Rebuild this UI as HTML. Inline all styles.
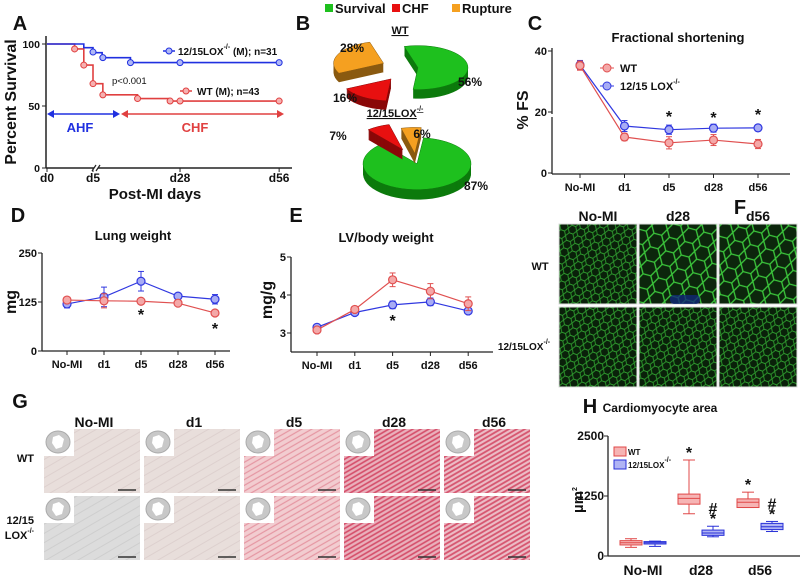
<!DOCTYPE html>
<html><head><meta charset="utf-8"><style>
html,body{margin:0;padding:0;background:#fff}
svg{display:block;font-family:"Liberation Sans",Arial,sans-serif}
</style></head><body>
<svg id="fig" width="801" height="580" viewBox="0 0 801 580">
<defs>
<pattern id="cells" width="9" height="8" patternUnits="userSpaceOnUse" patternTransform="rotate(20)">
<rect width="9" height="8" fill="#0a200a"/>
<path d="M0 4 L2.5 0 L6.5 0 L9 4 L6.5 8 L2.5 8 Z" fill="none" stroke="#2e9a2e" stroke-width="0.9"/>
</pattern>
<pattern id="cellsBig" width="16" height="14" patternUnits="userSpaceOnUse" patternTransform="rotate(15)">
<rect width="16" height="14" fill="#0c260c"/>
<path d="M0 7 L4 0 L12 0 L16 7 L12 14 L4 14 Z" fill="none" stroke="#3cc83c" stroke-width="1.3"/>
</pattern>
<pattern id="pale" width="8" height="8" patternUnits="userSpaceOnUse" patternTransform="rotate(-30)">
<rect width="8" height="8" fill="#e8dedb"/><line x1="0" y1="4" x2="8" y2="4" stroke="#ddd0ce" stroke-width="1"/>
</pattern>
<pattern id="grey" width="8" height="8" patternUnits="userSpaceOnUse" patternTransform="rotate(-30)">
<rect width="8" height="8" fill="#dcdcdc"/><line x1="0" y1="4" x2="8" y2="4" stroke="#cecece" stroke-width="1"/>
</pattern>
<pattern id="pink1" width="5" height="5" patternUnits="userSpaceOnUse" patternTransform="rotate(-30)">
<rect width="5" height="5" fill="#f2ccd0"/><line x1="0" y1="2.5" x2="5" y2="2.5" stroke="#e596a2" stroke-width="1.2"/>
</pattern>
<pattern id="pink2" width="4" height="4" patternUnits="userSpaceOnUse" patternTransform="rotate(-30)">
<rect width="4" height="4" fill="#eab0bc"/><line x1="0" y1="2" x2="4" y2="2" stroke="#d44c68" stroke-width="1.6"/>
</pattern>
<pattern id="pink3" width="4" height="4" patternUnits="userSpaceOnUse" patternTransform="rotate(-30)">
<rect width="4" height="4" fill="#ecbcc6"/><line x1="0" y1="2" x2="4" y2="2" stroke="#d6546e" stroke-width="1.8"/>
</pattern>
</defs>
<g id="root"></g>
</svg>
<script>
// ---------- Panel A data ----------
const kmBlueDays=[0,4,5,6,14,56];
const kmBlueSurv=[100,97,93,89,85,85];
const kmBlueCensorDays=[5,6.2,14,28,56];
const kmBlueCensorSurv=[93.5,89,85,85,85];
const kmRedDays=[0,3,4,5,6.2,16,25,56];
const kmRedSurv=[100,96,83,68,59,56,54,54];
const kmRedCensorDays=[3,4,5,6.2,16,25.2,28,56];
const kmRedCensorSurv=[96,83,68,59,56,54,54,54];
const kmTickDays=[0,5,28,56];
const kmTickLabels=["d0","d5","d28","d56"];
const kmYTicks=[0,50,100];
// ---------- Panel B data ----------
const pieWTLabels=["Survival","CHF","Rupture"];
const pieWTValues=[56,16,28];
const pieKOValues=[87,7,6];
// ---------- Panel C/D/E data ----------
const catLabels=["No-MI","d1","d5","d28","d56"];
const fsWT=[35.2,11.8,9.9,10.8,9.5];
const fsWTerr=[1.5,1.2,2,1.8,1.5];
const fsKO=[35.4,15.4,14.2,14.7,14.8];
const fsKOerr=[1.5,1.8,1.5,1.3,1];
const fsTicks=[0,20,40];
const lungWT=[130,128,127,122,97];
const lungWTerr=[5,18,5,5,5];
const lungKO=[120,138,178,140,132];
const lungKOerr=[10,25,25,6,12];
const lungTicks=[0,125,250];
const lvWT=[3.08,3.62,4.4,4.1,3.77];
const lvWTerr=[0.05,0.05,0.18,0.2,0.18];
const lvKO=[3.15,3.54,3.74,3.82,3.58];
const lvKOerr=[0.06,0.05,0.1,0.1,0.05];
const lvTicks=[3,4,5];
// ---------- Panel H data ----------
const boxCats=["No-MI","d28","d56"];
const boxWTmin=[180,880,1010], boxWTq1=[230,1080,1010], boxWTmed=[275,1200,1120], boxWTq3=[320,1290,1190], boxWTmax=[360,2000,1330];
const boxKOmin=[200,400,510], boxKOq1=[250,430,550], boxKOmed=[275,480,610], boxKOq3=[300,540,680], boxKOmax=[310,620,720];
const boxTicks=[0,1250,2500];

const NS="http://www.w3.org/2000/svg";
const root=document.getElementById('root');
function mk(tag,attrs,parent,text){const e=document.createElementNS(NS,tag);for(const k in attrs)e.setAttribute(k,attrs[k]);if(text!==undefined)e.textContent=text;(parent||root).appendChild(e);return e;}
function grp(name,parent){const g=mk('g',{},parent);return g;}
function txt(g,x,y,s,size,opts){opts=opts||{};const t=mk('text',{x:x,y:y,'font-size':size,'font-weight':opts.w||'bold','text-anchor':opts.a||'middle',fill:opts.c||'#111'},g,s);if(opts.rot)t.setAttribute('transform','rotate(-90 '+x+' '+y+')');if(opts.name){}return t;}
function sup(t,s){const ts=mk('tspan',{'font-size':'7','dy':'-6'},t,s);return ts;}

// ================= Panel A =================
(function(){
const g=grp('panel-a');
txt(g,20,30,'A',20,{name:'panel-a-label'});
const x=d=>d<=5?47+d*9.2:98.6+(d-5)*3.54;
const y=v=>168-v*1.24;
const ax=grp('a-axes',g);
mk('line',{x1:46,y1:36,x2:46,y2:168,stroke:'#222','stroke-width':1.5},ax);
mk('line',{x1:46,y1:168,x2:94,y2:168,stroke:'#222','stroke-width':1.5},ax);
mk('line',{x1:98,y1:168,x2:292,y2:168,stroke:'#222','stroke-width':1.5},ax);
mk('line',{x1:92,y1:171,x2:96,y2:165,stroke:'#222','stroke-width':1.2},ax);
mk('line',{x1:96,y1:171,x2:100,y2:165,stroke:'#222','stroke-width':1.2},ax);
kmYTicks.forEach(v=>{mk('line',{x1:42,y1:y(v),x2:46,y2:y(v),stroke:'#222'},ax);txt(ax,40,y(v)+4,String(v),10.5,{a:'end'});});
kmTickDays.forEach((d,i)=>{const xx=(d===5)?93:x(d);mk('line',{x1:xx,y1:168,x2:xx,y2:172,stroke:'#222'},ax);txt(ax,xx,182,kmTickLabels[i],12);});
txt(g,155,199,'Post-MI days',15,{name:'a-x-title'});
txt(g,16,102,'Percent Survival',16,{rot:true,name:'a-y-title'});
function step(days,surv,color,w){let d='M'+x(days[0])+' '+y(surv[0]);for(let i=1;i<days.length;i++){d+=' H'+x(days[i])+' V'+y(surv[i]);}const p=mk('path',{d:d,fill:'none',stroke:color,'stroke-width':w},g);return p;}
const rl=step(kmRedDays,kmRedSurv,'#e04040',1.6);


const bl=step(kmBlueDays,kmBlueSurv,'#2030e0',1.6);


kmRedCensorDays.forEach((d,i)=>{const c=mk('circle',{cx:x(d),cy:y(kmRedCensorSurv[i]),r:3,fill:'#f6b0b0',stroke:'#e04040'},g);

});
kmBlueCensorDays.forEach((d,i)=>{const c=mk('circle',{cx:x(d),cy:y(kmBlueCensorSurv[i]),r:3,fill:'#b0b8f6',stroke:'#2030e0'},g);

});
const lg=grp('a-legend',g);
mk('line',{x1:163,y1:51,x2:175,y2:51,stroke:'#2030e0','stroke-width':1.5},lg);mk('circle',{cx:169,cy:51,r:3,fill:'#b0b8f6',stroke:'#2030e0'},lg);
const t1=txt(lg,178,55,'12/15LOX',10,{a:'start'});sup(t1,'-/-');mk('tspan',{dy:'6'},t1,' (M); n=31');
mk('line',{x1:180,y1:91,x2:192,y2:91,stroke:'#e04040','stroke-width':1.5},lg);mk('circle',{cx:186,cy:91,r:3,fill:'#f6b0b0',stroke:'#e04040'},lg);
txt(lg,197,95,'WT (M); n=43',10,{a:'start'});
txt(g,112,84,'p<0.001',9.5,{a:'start',w:'normal'});
const ar=grp('a-phase-arrows',g);
mk('line',{x1:50,y1:114,x2:116,y2:114,stroke:'#2030e0','stroke-width':1.6},ar);
mk('path',{d:'M47 114 L54 110 L54 118 Z M120 114 L113 110 L113 118 Z',fill:'#2030e0'},ar);
mk('line',{x1:124,y1:114,x2:280,y2:114,stroke:'#e04040','stroke-width':1.6},ar);
mk('path',{d:'M121 114 L128 110 L128 118 Z M284 114 L277 110 L277 118 Z',fill:'#e04040'},ar);
txt(ar,80,132,'AHF',13,{c:'#2030e0'});txt(ar,195,132,'CHF',13,{c:'#e04040'});
})();

// ================= Panel B =================
(function(){
const g=grp('panel-b');
txt(g,303,30,'B',20,{name:'panel-b-label'});
const lg=grp('b-legend',g);
const cols=['#1ec01e','#e81010','#f5a020'];const lx=[325,392,452];
pieWTLabels.forEach((l,i)=>{mk('rect',{x:lx[i],y:4,width:8,height:8,fill:cols[i]},lg);txt(lg,lx[i]+10,13,l,13,{a:'start'});});
const wt=txt(g,400,34,'WT',11);wt.setAttribute('text-decoration','underline');
const ko=txt(g,395,117,'12/15LOX',11);sup(ko,'-/-');ko.setAttribute('text-decoration','underline');
const dark=['#0c7a0c','#8a0808','#8a5a10'];
function pie(cx,cy,rx,ry,depth,vals,start,explode,name){
 const pg=grp(name,g);let a=start;const tot=vals.reduce((s,v)=>s+v,0);
 vals.forEach((v,i)=>{const sweep=v/tot*2*Math.PI;const mid=a+sweep/2;const ex=explode[i];
  const ox=cx+Math.cos(mid)*ex*rx/30,oy=cy+Math.sin(mid)*ex*ry/30;
  const x1=ox+rx*Math.cos(a),y1=oy+ry*Math.sin(a),x2=ox+rx*Math.cos(a+sweep),y2=oy+ry*Math.sin(a+sweep);
  const large=sweep>Math.PI?1:0;
  const dpath=(dy)=>'M'+ox+' '+(oy+dy)+' L'+x1+' '+(y1+dy)+' A'+rx+' '+ry+' 0 '+large+' 1 '+x2+' '+(y2+dy)+' Z';
  for(let k=depth;k>0;k--){mk('path',{d:dpath(k),fill:dark[i]},pg);}
  const s=mk('path',{d:dpath(0),fill:cols[i],stroke:dark[i],'stroke-width':0.5},pg);
  
  
  a+=sweep;});
}
pie(408,68,50,22,9,pieWTValues,-1.85,[6,18,16],'wt-pie');
pie(416,162,54,26,10,pieKOValues,-1.45,[2,16,10],'ko-pie');
txt(g,352,52,'28%',12);txt(g,345,102,'16%',12);txt(g,470,86,'56%',12);
txt(g,338,140,'7%',12);txt(g,422,138,'6%',12);txt(g,476,190,'87%',12);
})();

// ================= Line charts =================
function lineChart(o){
 const g=grp(o.name);
 txt(g,o.lx,o.ly,o.letter,20,{name:o.name+'-label'});
 txt(g,o.tx,o.ty,o.title,13,{name:o.name+'-title'});
 const y=v=>o.y0+(v-o.vmin)/(o.vmax-o.vmin)*(o.y1-o.y0);
 const x=i=>o.xs+i*o.dx;
 const ax=grp(o.name+'-axes',g);
 mk('line',{x1:o.ax,y1:o.atop,x2:o.ax,y2:o.abot,stroke:'#222','stroke-width':1.3},ax);
 mk('line',{x1:o.ax,y1:o.abot,x2:o.aright,y2:o.abot,stroke:'#222','stroke-width':1.3},ax);
 o.ticks.forEach(v=>{mk('line',{x1:o.ax-4,y1:y(v),x2:o.ax,y2:y(v),stroke:'#222'},ax);txt(ax,o.ax-5,y(v)+4,String(v),11,{a:'end'});});
 catLabels.forEach((c,i)=>{mk('line',{x1:x(i),y1:o.abot,x2:x(i),y2:o.abot+4,stroke:'#222'},ax);txt(ax,x(i),o.abot+17,c,11);});
 txt(g,o.ylx,o.yly,o.ylab,16,{rot:true,name:o.name+'-y-title'});
 const ser=[[o.ko,o.koe,'#3038e0','#a8acf4','ko'],[o.wt,o.wte,'#e05050','#f4a8a8','wt']];
 ser.forEach(s=>{const sg=grp(o.name+'-'+s[4]+'-series',g);
  const l=mk('polyline',{points:s[0].map((v,i)=>x(i)+','+y(v)).join(' '),fill:'none',stroke:s[2],'stroke-width':1.2},sg);
  
  
  s[0].forEach((v,i)=>{const e=s[1][i];
   mk('line',{x1:x(i),y1:y(v-e),x2:x(i),y2:y(v+e),stroke:s[2]},sg);
   mk('line',{x1:x(i)-3,y1:y(v-e),x2:x(i)+3,y2:y(v-e),stroke:s[2]},sg);
   mk('line',{x1:x(i)-3,y1:y(v+e),x2:x(i)+3,y2:y(v+e),stroke:s[2]},sg);
   const c=mk('circle',{cx:x(i),cy:y(v),r:4,fill:s[3],stroke:s[2],'stroke-width':1.2},sg);
   
   });
 });
 (o.stars||[]).forEach(st=>txt(g,x(st[0]),st[1],'*',16));
 return g;
}
const gC=lineChart({name:'panel-c',letter:'C',lx:535,ly:30,title:'Fractional shortening',tx:678,ty:42,
 vmin:0,vmax:40,y0:173,y1:51,xs:580,dx:44.5,ax:552,atop:48,abot:174,aright:790,ticks:fsTicks,
 ylab:'% FS',ylx:528,yly:110,wt:fsWT,wte:fsWTerr,ko:fsKO,koe:fsKOerr,stars:[[2,122],[3,123],[4,120]]});
(function(){const lg=grp('c-legend',gC);
 mk('line',{x1:600,y1:68,x2:614,y2:68,stroke:'#e05050'},lg);mk('circle',{cx:607,cy:68,r:4,fill:'#f4a8a8',stroke:'#e05050'},lg);
 txt(lg,620,72,'WT',11,{a:'start'});
 mk('line',{x1:600,y1:86,x2:614,y2:86,stroke:'#3038e0'},lg);mk('circle',{cx:607,cy:86,r:4,fill:'#a8acf4',stroke:'#3038e0'},lg);
 const t=txt(lg,620,90,'12/15 LOX',11,{a:'start'});sup(t,'-/-');
 mk('rect',{x:549,y:114,width:7,height:3,fill:'#fff'},gC);})();
lineChart({name:'panel-d',letter:'D',lx:18,ly:222,title:'Lung weight',tx:133,ty:240,
 vmin:0,vmax:250,y0:351,y1:253,xs:67,dx:37,ax:42,atop:253,abot:351,aright:230,ticks:lungTicks,
 ylab:'mg',ylx:16,yly:302,wt:lungWT,wte:lungWTerr,ko:lungKO,koe:lungKOerr,stars:[[2,320],[4,334]]});
lineChart({name:'panel-e',letter:'E',lx:296,ly:222,title:'LV/body weight',tx:386,ty:242,
 vmin:3,vmax:5,y0:333,y1:257,xs:317,dx:37.8,ax:291,atop:257,abot:352,aright:493,ticks:lvTicks,
 ylab:'mg/g',ylx:272,yly:300,wt:lvWT,wte:lvWTerr,ko:lvKO,koe:lvKOerr,stars:[[2,326]]});

// ================= Panel F =================
(function(){
const g=grp('panel-f');
txt(g,740,214,'F',20,{name:'panel-f-label'});
const cx=[559,639,719],cw=[78,78,78],cl=['No-MI','d28','d56'];
cl.forEach((c,i)=>txt(g,cx[i]+39,221,c,14));
txt(g,540,270,'WT',11);
const t=txt(g,524,350,'12/15LOX',10);sup(t,'-/-');
const fills=[['url(#cells)','url(#cellsBig)','url(#cellsBig)'],['url(#cells)','url(#cells)','url(#cells)']];
[224,307].forEach((yy,r)=>cx.forEach((xx,i)=>{const im=mk('rect',{x:xx,y:yy,width:cw[i],height:80,fill:fills[r][i],stroke:'#ddd'},g);
 
 }));
mk('rect',{x:670,y:295,width:30,height:9,rx:4,fill:'#102878',opacity:0.8},g);
})();

// ================= Panel G =================
(function(){
const g=grp('panel-g');
txt(g,20,408,'G',20,{name:'panel-g-label'});
const cx=[44,144,244,344,444],cl=['No-MI','d1','d5','d28','d56'];
cl.forEach((c,i)=>txt(g,cx[i]+50,427,c,14));
txt(g,34,462,'WT',11,{a:'end'});
txt(g,34,524,'12/15',11,{a:'end'});const t=txt(g,34,539,'LOX',11,{a:'end'});sup(t,'-/-');
const fills=[['url(#pale)','url(#pale)','url(#pink1)','url(#pink2)','url(#pink3)'],['url(#grey)','url(#pale)','url(#pink1)','url(#pink2)','url(#pink3)']];
[429,496].forEach((yy,r)=>cx.forEach((xx,i)=>{const w=i===4?86:96;
 const im=mk('rect',{x:xx,y:yy,width:w,height:64,fill:fills[r][i]},g);
 
 
 mk('rect',{x:xx,y:yy,width:30,height:27,fill:'#fff'},g);
 mk('ellipse',{cx:xx+14,cy:yy+13,rx:12,ry:11,fill:'#c8c8c8',stroke:'#aaa'},g);
 mk('path',{d:'M'+(xx+9)+' '+(yy+8)+' l6 -2 l5 4 l-2 8 l-6 2 l-4 -6 z',fill:'#fff'},g);
 mk('line',{x1:xx+w-22,y1:yy+61,x2:xx+w-4,y2:yy+61,stroke:'#333','stroke-width':1.5},g);}));
})();

// ================= Panel H =================
(function(){
const g=grp('panel-h');
txt(g,590,413,'H',20,{name:'panel-h-label'});
txt(g,660,412,'Cardiomyocyte area',12,{name:'h-title'});
const y=v=>556-v/2500*120;
const ax=grp('h-axes',g);
mk('line',{x1:608,y1:436,x2:608,y2:556,stroke:'#222','stroke-width':1.3},ax);
mk('line',{x1:608,y1:556,x2:800,y2:556,stroke:'#222','stroke-width':1.3},ax);
boxTicks.forEach(v=>{mk('line',{x1:604,y1:y(v),x2:608,y2:y(v),stroke:'#222'},ax);txt(ax,604,y(v)+4,String(v),12,{a:'end'});});
const cxs=[643,701,760];
boxCats.forEach((c,i)=>txt(ax,cxs[i],575,c,14));
const yt=txt(g,583,500,'µm',15,{rot:true,name:'h-y-title'});sup(yt,'2');
function box(cx,mn,q1,md,q3,mx,stroke,fill,name){const bg=grp(name,g);const w=22;
 mk('line',{x1:cx,y1:y(mx),x2:cx,y2:y(mn),stroke:stroke},bg);
 mk('line',{x1:cx-6,y1:y(mx),x2:cx+6,y2:y(mx),stroke:stroke},bg);
 mk('line',{x1:cx-6,y1:y(mn),x2:cx+6,y2:y(mn),stroke:stroke},bg);
 mk('rect',{x:cx-w/2,y:y(q3),width:w,height:Math.max(1,y(q1)-y(q3)),fill:fill,stroke:stroke},bg);
 mk('line',{x1:cx-w/2,y1:y(md),x2:cx+w/2,y2:y(md),stroke:stroke},bg);}
boxCats.forEach((c,i)=>{box(cxs[i]-12,boxWTmin[i],boxWTq1[i],boxWTmed[i],boxWTq3[i],boxWTmax[i],'#e04848','#f6b4b4','h-box-wt-'+c.toLowerCase());
 box(cxs[i]+12,boxKOmin[i],boxKOq1[i],boxKOmed[i],boxKOq3[i],boxKOmax[i],'#2830d8','#b0b4f4','h-box-ko-'+c.toLowerCase());});
txt(g,cxs[1]-12,y(boxWTmax[1])-2,'*',16);txt(g,cxs[2]-12,y(boxWTmax[2])-2,'*',16);
[1,2].forEach(i=>{txt(g,cxs[i]+12,y(boxKOmax[i])-2,'*',16);txt(g,cxs[i]+12,y(boxKOmax[i])-12,'#',16,{w:'bold'});});
const lg=grp('h-legend',g);
mk('rect',{x:614,y:447,width:12,height:9,fill:'#f6b4b4',stroke:'#e04848'},lg);txt(lg,628,455,'WT',8,{a:'start'});
mk('rect',{x:614,y:460,width:12,height:9,fill:'#b0b4f4',stroke:'#2830d8'},lg);const lt=txt(lg,628,468,'12/15LOX',8,{a:'start'});sup(lt,'-/-');
})();
</script>
</body></html>
